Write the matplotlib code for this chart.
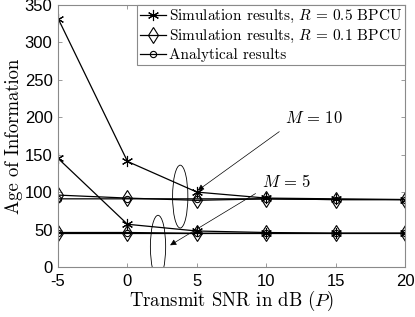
import numpy as np
import matplotlib
matplotlib.use('Agg')
import matplotlib.pyplot as plt
from matplotlib.patches import Ellipse

plt.rcParams['mathtext.fontset'] = 'cm'
plt.rcParams['axes.unicode_minus'] = False

snr = [-5, 0, 5, 10, 15, 20]

# R = 0.5 BPCU simulation
sim05_m10 = [332, 141, 100, 92, 91, 90]
sim05_m5 = [145, 57, 48, 46, 45, 45]
# R = 0.1 BPCU simulation
sim01_m10 = [96, 92, 89, 91, 90, 90]
sim01_m5 = [46, 46, 45, 45, 45, 45]
# analytical
ana_m10 = [91, 91, 91, 91, 90, 90]
ana_m5 = [45, 45, 45, 45, 45, 45]

xticks = [-5, 0, 5, 10, 15, 20]
yticks = [0, 50, 100, 150, 200, 250, 300, 350]

serif = 'cmr10'
edge = '#8a8a8a'

fig = plt.figure(figsize=(4.15, 3.17), dpi=100)
ax = fig.add_axes([0.140, 0.158, 0.836, 0.826])

ax.plot(snr, sim05_m10, color='k', lw=0.9, marker=(6, 2, 0), ms=8, mew=0.8,
        label='Simulation results, $R\\,=\\,0.5$ BPCU')
ax.plot(snr, sim05_m5, color='k', lw=0.9, marker=(6, 2, 0), ms=8, mew=0.8)
ax.plot(snr, sim01_m10, color='k', lw=0.9, marker='d', ms=8, mfc='none', mew=0.8,
        label='Simulation results, $R\\,=\\,0.1$ BPCU')
ax.plot(snr, sim01_m5, color='k', lw=0.9, marker='d', ms=8, mfc='none', mew=0.8)
ax.plot(snr, ana_m10, color='k', lw=0.9, marker='o', ms=4.5, mfc='none', mew=0.8,
        label='Analytical results')
ax.plot(snr, ana_m5, color='k', lw=0.9, marker='o', ms=4.5, mfc='none', mew=0.8)

ax.set_xlim(-5, 20)
ax.set_ylim(0, 350)
ax.set_xticks(xticks)
ax.set_yticks(yticks)
ax.set_xticklabels([str(v) for v in xticks], fontsize=12, family='Liberation Sans')
ax.set_yticklabels([str(v) for v in yticks], fontsize=12, family='Liberation Sans')
ax.tick_params(direction='in', top=True, right=True, length=3, width=0.6,
               color=edge)
ax.tick_params(axis='x', pad=5)
ax.tick_params(axis='y', pad=4)
for s in ax.spines.values():
    s.set_color(edge)
    s.set_linewidth(0.8)

ax.set_xlabel('Transmit SNR in dB $(P)$', fontsize=13.5, family=serif, labelpad=0)
ax.set_ylabel('Age of Information', fontsize=13.5, family=serif, labelpad=1)

# ellipses marking the two groups
ax.add_patch(Ellipse((3.8, 94), 1.1, 84, fill=False, ec='k', lw=0.6))
ax.add_patch(Ellipse((2.2, 27), 1.1, 84, fill=False, ec='k', lw=0.6))

ax.annotate('', xy=(4.9, 100), xytext=(11.1, 183),
            arrowprops=dict(arrowstyle='-|>', color='k', lw=0.5,
                            mutation_scale=9))
ax.text(11.35, 199, '$M\\,=\\,10$', fontsize=12, va='center', ha='left')
ax.annotate('', xy=(2.9, 27), xytext=(9.4, 100),
            arrowprops=dict(arrowstyle='-|>', color='k', lw=0.5,
                            mutation_scale=9))
ax.text(9.7, 113, '$M\\,=\\,5$', fontsize=12, va='center', ha='left')

leg = ax.legend(loc='upper right', borderaxespad=0, fancybox=False,
                prop={'family': serif, 'size': 11}, handlelength=1.7,
                handletextpad=0.2, labelspacing=0.2, borderpad=0.2)
leg.get_frame().set_edgecolor(edge)
leg.get_frame().set_linewidth(0.8)
leg.get_frame().set_alpha(1)

fig.savefig('out.png', dpi=100)
